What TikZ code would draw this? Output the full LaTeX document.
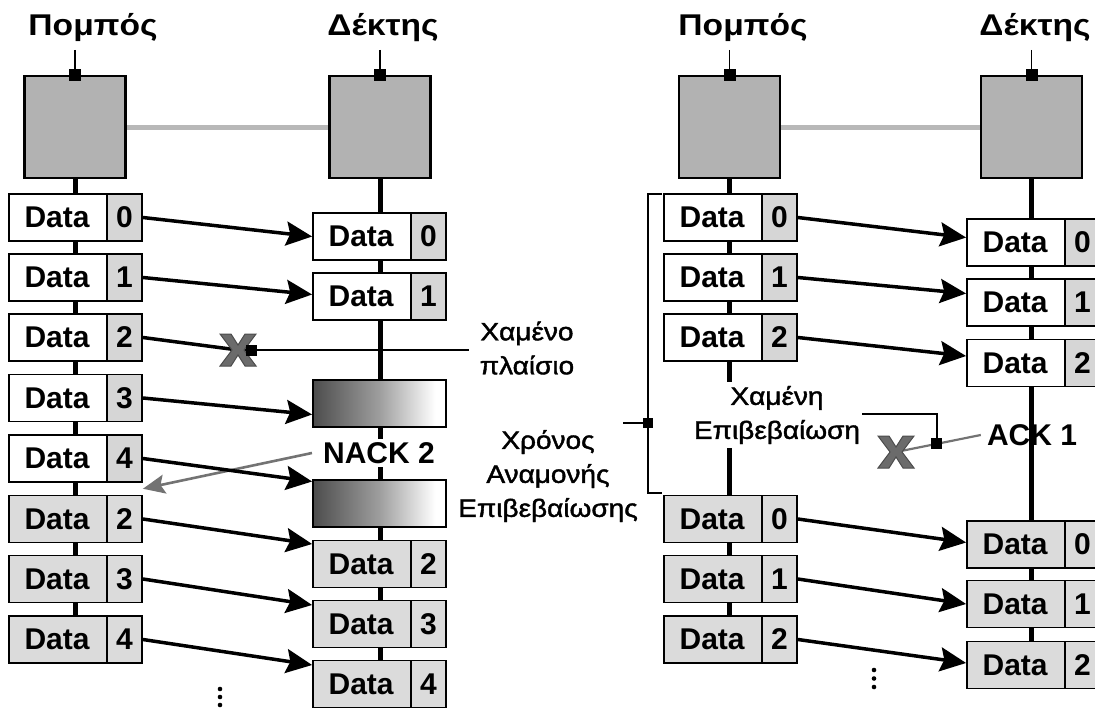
\documentclass[tikz,border=0pt]{standalone}
\usepackage{fontspec}
\setmainfont{Liberation Sans}
\newfontfamily\widesans{Liberation Sans}[FakeStretch=1.12]
\newfontfamily\notesans{Liberation Sans}[FakeStretch=1.12, FakeBold=1.6]
\usetikzlibrary{arrows.meta,calc,backgrounds}

% fade used for the frames that arrive damaged
\pgfdeclarehorizontalshading{lossfade}{100bp}{color(0bp)=(black!70); color(25bp)=(black!70); color(50bp)=(black!38); color(71bp)=(white); color(100bp)=(white)}

\definecolor{cellgray}{gray}{0.84}
\definecolor{rowgray}{gray}{0.86}
\definecolor{hostgray}{gray}{0.70}
\definecolor{linkgray}{gray}{0.72}
\definecolor{xgray}{gray}{0.42}
\definecolor{nackgray}{gray}{0.45}

\tikzset{
  host/.style={draw, line width=2.6pt, fill=hostgray, minimum width=101pt, minimum height=102pt, inner sep=0pt},
  port/.style={fill=black, minimum size=12pt, inner sep=0pt},
  frame/.style={draw, line width=1.8pt, minimum width=133pt, minimum height=47pt, inner sep=0pt},
  seqcell/.style={draw, line width=1.8pt, fill=cellgray, minimum width=35pt, minimum height=47pt, inner sep=0pt, font=\bfseries\fontsize{30}{30}\selectfont},
  datatxt/.style={font=\bfseries\fontsize{30}{30}\selectfont, inner sep=0pt},
  fadeframe/.style={draw, line width=1.8pt, shading=lossfade, minimum width=133pt, minimum height=47pt, inner sep=0pt},
  title/.style={font=\widesans\bfseries\fontsize{30}{30}\selectfont, inner sep=0pt},
  boldlbl/.style={font=\bfseries\fontsize{30}{30}\selectfont},
  note/.style={font=\notesans\fontsize{25}{34}\selectfont, align=center, inner sep=0pt},
  timeline/.style={line width=5pt},
  link/.style={line width=5pt, draw=linkgray},
  tick/.style={line width=1.6pt},
  msg/.style={line width=3.5pt, -{Stealth[length=26pt,width=24pt,inset=4pt]}},
  nackmsg/.style={line width=2.6pt, draw=nackgray, -{Stealth[length=22pt,width=19pt,inset=4pt]}},
  ackmsg/.style={line width=2.2pt, draw=nackgray},
  lostx/.pic={\path[fill=xgray, draw=black!70, line width=1pt]
     (-18,-16) -- (-7,-16) -- (0,-5) -- (7,-16) -- (18,-16) -- (6,0)
     -- (18,16) -- (7,16) -- (0,5) -- (-7,16) -- (-18,16) -- (-6,0) -- cycle;},
}

% a data frame: body with the word Data and a cell holding the sequence number
\newcommand{\frm}[5]{%
  \node[frame, fill=#4] (#1) at (#2) {};
  \node[seqcell, fill=#5, anchor=east] (#1s) at (#1.east) {#3};
  \node[datatxt] (#1t) at ($(#1.west)!0.5!(#1s.west)$) {Data};
}

\begin{document}
\begin{tikzpicture}[x=1pt,y=-1pt]
\useasboundingbox (0,0) rectangle (1095,709);
\clip (0,0) rectangle (1095,709);

% ===================== left: negative acknowledgement =====================
\node[title] (tl1) at (93,28) {Πομπός};
\node[title] (tl2) at (383,28) {Δέκτης};
\node[host] (h1) at (75,127) {};
\node[host] (h2) at (380,127) {};
\coordinate (k1) at (75,50);
\coordinate (k2) at (380,50);
\draw[tick] (k1) -- (h1.north);
\draw[tick] (k2) -- (h2.north);
\node[port] (p1) at (h1.north) {};
\node[port] (p2) at (h2.north) {};

\frm{a0}{75.5,217.5}{0}{white}{cellgray}
\frm{a1}{75.5,277.5}{1}{white}{cellgray}
\frm{a2}{75.5,337.5}{2}{white}{cellgray}
\frm{a3}{75.5,398}{3}{white}{cellgray}
\frm{a4}{75.5,458.5}{4}{white}{cellgray}
\frm{a5}{75.5,519}{2}{rowgray}{rowgray}
\frm{a6}{75.5,579}{3}{rowgray}{rowgray}
\frm{a7}{75.5,639.5}{4}{rowgray}{rowgray}

\frm{b0}{379.5,236.5}{0}{white}{cellgray}
\frm{b1}{379.5,296.5}{1}{white}{cellgray}
\node[fadeframe] (g1) at (379.5,403.5) {};
\node[fadeframe] (g2) at (379.5,503.5) {};
\frm{b5}{379.5,564}{2}{rowgray}{rowgray}
\frm{b6}{379.5,624}{3}{rowgray}{rowgray}
\frm{b7}{379.5,684}{4}{rowgray}{rowgray}

\node[boldlbl, fill=white, inner sep=3pt] (nack) at (379,453) {NACK 2};

\begin{scope}[on background layer]
  \draw[link] (h1.east) -- (h2.west);
  \draw[timeline] (h1.south) -- (h1.south |- a7.center);
  \draw[timeline] (h2.south) -- (h2.south |- b7.center);
\end{scope}

\draw[msg] (a0.east) -- (b0.west);
\draw[msg] (a1.east) -- ([yshift=2pt]b1.west);
\coordinate (x1) at (238,350);
\draw[line width=3.5pt] (a2.east) -- (x1);
\draw[msg] (a3.east) -- ([yshift=-11pt]g1.west);
\coordinate (nackend) at ($(a4.south east)!0.5!(a5.north east)$);
\draw[nackmsg] ([xshift=-8pt]nack.west) -- (nackend);
\draw[msg] (a4.east) -- ([yshift=22pt]g2.west);
\draw[msg] (a5.east) -- ([yshift=20pt]b5.west);
\draw[msg] (a6.east) -- ([yshift=19pt]b6.west);
\draw[msg] (a7.east) -- ([yshift=19pt]b7.west);

\node[note] (lostlbl) at (527,348) {Χαμένο\\πλαίσιο};
\coordinate (lostend) at (469,350);
\draw[tick] (x1) -- (lostend);
\pic at (x1) {lostx};
\node[port, minimum size=11pt] (q1) at (251,350) {};

\fill (220,689) circle[radius=2.3pt] (220,697) circle[radius=2.3pt] (220,705) circle[radius=2.3pt];

% ===================== right: positive acknowledgement =====================
\node[title] (tr1) at (743,28) {Πομπός};
\node[title] (tr2) at (1035,28) {Δέκτης};
\node[host] (h3) at (729.5,127) {};
\node[host] (h4) at (1031.5,127) {};
\coordinate (k3) at (729.5,50);
\coordinate (k4) at (1031.5,50);
\draw[tick] (k3) -- (h3.north);
\draw[tick] (k4) -- (h4.north);
\node[port] (p3) at (h3.north) {};
\node[port] (p4) at (h4.north) {};

\frm{c0}{730.5,217.5}{0}{white}{cellgray}
\frm{c1}{730.5,277.5}{1}{white}{cellgray}
\frm{c2}{730.5,337.5}{2}{white}{cellgray}
\frm{c3}{730.5,519}{0}{rowgray}{rowgray}
\frm{c4}{730.5,579}{1}{rowgray}{rowgray}
\frm{c5}{730.5,639.5}{2}{rowgray}{rowgray}

\frm{d0}{1033.5,242.5}{0}{white}{cellgray}
\frm{d1}{1033.5,302.5}{1}{white}{cellgray}
\frm{d2}{1033.5,363}{2}{white}{cellgray}
\frm{d3}{1033.5,544.5}{0}{rowgray}{rowgray}
\frm{d4}{1033.5,604}{1}{rowgray}{rowgray}
\frm{d5}{1033.5,665}{2}{rowgray}{rowgray}

\node[note, fill=white, inner sep=4pt] (lostack) at (777,415) {Χαμένη\\Επιβεβαίωση};
\node[boldlbl, inner sep=0pt] (ack) at (1032,435) {ACK 1};

\begin{scope}[on background layer]
  \draw[link] (h3.east) -- (h4.west);
  \draw[timeline] (h3.south) -- (h3.south |- c5.center);
  \draw[timeline] (h4.south) -- (h4.south |- d5.center);
\end{scope}

\draw[msg] (c0.east) -- ([yshift=5pt]d0.west);
\draw[msg] (c1.east) -- ([yshift=9pt]d1.west);
\draw[msg] (c2.east) -- ([yshift=7pt]d2.west);
\draw[msg] (c3.east) -- ([yshift=2pt]d3.west);
\draw[msg] (c4.east) -- (d4.west);
\draw[msg] (c5.east) -- ([yshift=2pt]d5.west);

\coordinate (x2) at (896,452);
\draw[ackmsg] ([xshift=-6pt]ack.west) -- (x2);
\pic at (x2) {lostx};
\node[port, minimum size=11pt] (q2) at ($([xshift=-6pt]ack.west)!0.52!(x2)$) {};
\coordinate (lk) at (862,414);
\draw[tick] (q2.center) |- (lk);

% waiting time bracket
\node[note] (waitlbl) at (548,476) {Χρόνος\\Αναμονής\\Επιβεβαίωσης};
\coordinate (bt) at (662,194);
\coordinate (bb) at (662,493);
\draw[tick] (bt) -| (648,343) |- (bb);
\node[port, minimum size=10pt] (q3) at (648,423) {};
\coordinate (wl) at (623,423);
\draw[tick] (wl) -- (q3);

\fill (874,670) circle[radius=2.3pt] (874,678.5) circle[radius=2.3pt] (874,687) circle[radius=2.3pt];
\end{tikzpicture}
\end{document}
